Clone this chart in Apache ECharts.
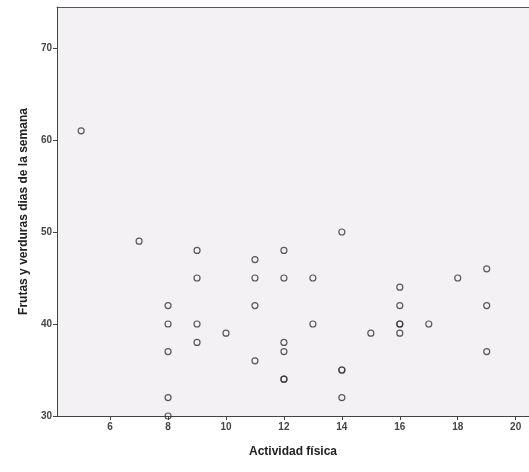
<!DOCTYPE html>
<html>
<head>
<meta charset="utf-8">
<script src="https://cdn.jsdelivr.net/npm/echarts@6/dist/echarts.min.js"></script>
<style>
html,body{margin:0;padding:0;background:#ffffff;}
#chart{width:529px;height:472px;}
</style>
</head>
<body>
<div id="chart"></div>
<script>
// Actividad física (x) and Frutas y verduras días de la semana (y)
const actividad = [5, 7, 8, 8, 8, 8, 8, 9, 9, 9, 9, 10, 11, 11, 11, 11, 12, 12, 12, 12, 12, 12, 13, 13, 14, 14, 14, 14, 15, 16, 16, 16, 16, 16, 17, 18, 19, 19, 19];
const frutas    = [61, 49, 42, 40, 37, 32, 30, 48, 45, 40, 38, 39, 47, 45, 42, 36, 48, 45, 38, 37, 34, 34, 45, 40, 50, 35, 35, 32, 39, 44, 42, 40, 40, 39, 40, 45, 46, 42, 37];
const xTicks = [6, 8, 10, 12, 14, 16, 18, 20];
const yTicks = [30, 40, 50, 60, 70];
const xTitle = 'Actividad física';
const yTitle = 'Frutas y verduras dias de la semana';

const points = actividad.map((x, i) => [x, frutas[i]]);
const font = 'Liberation Sans, Arial';

const chart = echarts.init(document.getElementById('chart'));
chart.setOption({
  animation: false,
  backgroundColor: '#ffffff',
  grid: {
    left: 57, top: 7, right: 0, bottom: 56,
    show: true,
    backgroundColor: '#f3f1f4',
    borderWidth: 0
  },
  xAxis: [{
    type: 'value',
    min: 4.166,
    max: 20.46,
    name: xTitle,
    nameLocation: 'middle',
    nameGap: 30,
    nameTextStyle: { fontFamily: font, fontWeight: 'bold', fontSize: 12, color: '#222' },
    axisLine: { show: true, lineStyle: { color: '#444', width: 1 } },
    axisTick: { show: true, inside: false, length: 4, customValues: xTicks, lineStyle: { color: '#444' } },
    axisLabel: { customValues: xTicks, margin: 6, fontFamily: font, fontSize: 10, fontWeight: 'bold', color: '#444' },
    splitLine: { show: false }
  }, {
    type: 'value',
    position: 'top',
    min: 4.166,
    max: 20.46,
    axisLine: { show: true, lineStyle: { color: '#555', width: 1 } },
    axisTick: { show: false },
    axisLabel: { show: false },
    splitLine: { show: false }
  }],
  yAxis: {
    type: 'value',
    min: 30,
    max: 74.46,
    name: yTitle,
    nameLocation: 'middle',
    nameGap: 23,
    nameRotate: 90,
    nameTextStyle: { fontFamily: font, fontWeight: 'bold', fontSize: 12, color: '#222' },
    axisLine: { show: true, lineStyle: { color: '#444', width: 1 } },
    axisTick: { show: true, inside: false, length: 4, customValues: yTicks, lineStyle: { color: '#444' } },
    axisLabel: { customValues: yTicks, margin: 5, fontFamily: font, fontSize: 10, fontWeight: 'bold', color: '#444' },
    splitLine: { show: false }
  },
  series: [{
    type: 'scatter',
    xAxisIndex: 0,
    data: points,
    symbol: 'circle',
    symbolSize: 6,
    itemStyle: { color: 'rgba(0,0,0,0)', borderColor: '#333', borderWidth: 1.2 },
    emphasis: { disabled: true }
  }]
});
</script>
</body>
</html>
